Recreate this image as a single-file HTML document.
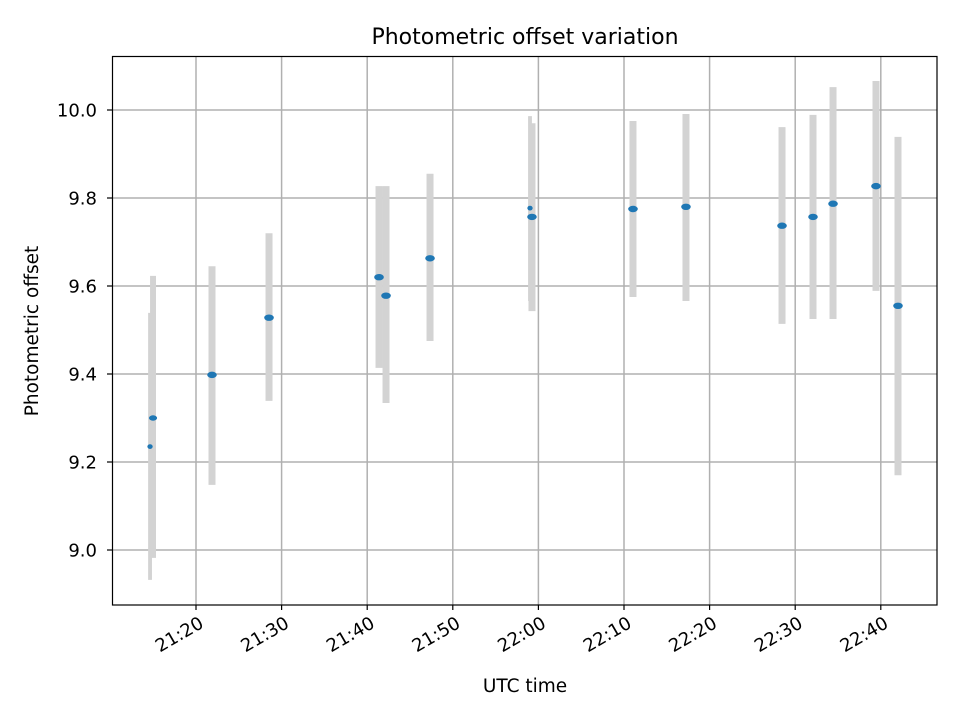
<!DOCTYPE html>
<html><head><meta charset="utf-8"><style>
html,body{margin:0;padding:0;background:#fff;}
svg{display:block;font-family:"DejaVu Sans","Liberation Sans",sans-serif;}
</style></head><body>
<svg id="chart" width="960" height="720" viewBox="0 0 960 720">
<rect width="960" height="720" fill="#fff"/>
<g id="grid"></g>
<g id="bars"></g>
<g id="pts"></g>
<rect x="112.5" y="56.5" width="824.5" height="548.5" fill="none" stroke="#000" stroke-width="1.2"/>
<g id="ticks"></g>
<text x="525" y="44" font-size="22" text-anchor="middle">Photometric offset variation</text>
<text x="525" y="692" font-size="18.5" text-anchor="middle">UTC time</text>
<text transform="translate(38,331) rotate(-90)" font-size="18.5" text-anchor="middle">Photometric offset</text>
</svg>
<script>
// minutes after 21:00 UTC
const times = [14.63,14.98,21.87,28.53,41.38,42.20,47.34,59.02,59.25,71.05,77.24,88.46,92.08,94.42,99.44,102.01];
const offsets = [9.235,9.30,9.398,9.528,9.62,9.578,9.663,9.777,9.757,9.775,9.78,9.737,9.757,9.787,9.827,9.555];
const errTop = [9.539,9.623,9.645,9.720,9.827,9.827,9.855,9.986,9.970,9.975,9.991,9.961,9.989,10.052,10.066,9.939];
const errBottom = [8.932,8.982,9.148,9.339,9.414,9.334,9.475,9.566,9.543,9.575,9.566,9.514,9.525,9.525,9.589,9.170];
const weights = [0.55,0.85,1,1,1,1,1,0.55,1,1,1,1,1,1,1,1];
const xTickMinutes = [20,30,40,50,60,70,80,90,100];
const xTickLabels = ["21:20","21:30","21:40","21:50","22:00","22:10","22:20","22:30","22:40"];
const yTicks = [9.0,9.2,9.4,9.6,9.8,10.0];
const yTickLabels = ["9.0","9.2","9.4","9.6","9.8","10.0"];

const X = m => 196 + (m - 20) * 8.56;
const Y = v => 110 + (10 - v) * 440;
const NS = "http://www.w3.org/2000/svg";
function mk(tag, attrs, parent){const e=document.createElementNS(NS,tag);for(const k in attrs)e.setAttribute(k,attrs[k]);parent.appendChild(e);return e;}
const grid=document.getElementById('grid'),ticks=document.getElementById('ticks'),bars=document.getElementById('bars'),pts=document.getElementById('pts');

xTickMinutes.forEach((m,i)=>{
  const x=X(m);
  const g=mk('line',{x1:x,x2:x,y1:56.5,y2:605,stroke:'#b0b0b0','stroke-width':1.5},grid);
  
  
  const t=mk('line',{x1:x,x2:x,y1:605,y2:610,stroke:'#000','stroke-width':1.2},ticks);
  
  
  const tx=mk('text',{'font-size':18,'text-anchor':'end',transform:`translate(${x+2},${615}) rotate(-30)`,dy:'0.75em'},ticks);
  tx.textContent=xTickLabels[i];
  
  
});
yTicks.forEach((v,i)=>{
  const y=Y(v);
  const g=mk('line',{x1:112.5,x2:937,y1:y,y2:y,stroke:'#b0b0b0','stroke-width':1.5},grid);
  
  
  const t=mk('line',{x1:107,x2:112.5,y1:y,y2:y,stroke:'#000','stroke-width':1.2},ticks);
  
  
  const tx=mk('text',{x:97,y:y+6.5,'font-size':18,'text-anchor':'end'},ticks);
  tx.textContent=yTickLabels[i];
  
  
});
times.forEach((m,i)=>{
  const x=X(m);
  const b=mk('line',{x1:x,x2:x,y1:Y(errTop[i]),y2:Y(errBottom[i]),stroke:'#d3d3d3','stroke-width':7*weights[i]},bars);
  
  
  const p=mk('ellipse',{cx:x,cy:Y(offsets[i]),rx:4.8*weights[i],ry:3.2*Math.max(weights[i],0.75),fill:'#1f77b4'},pts);
  
  
});
</script>
</body></html>
